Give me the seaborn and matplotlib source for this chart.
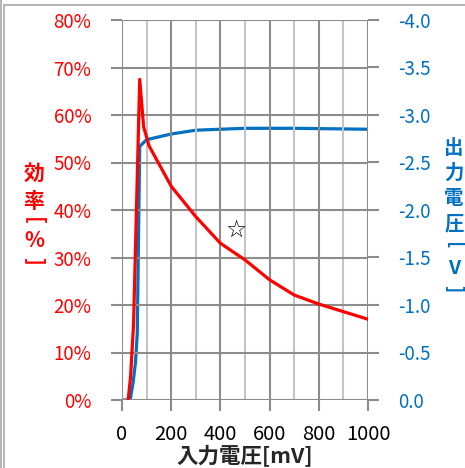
import matplotlib
matplotlib.use("Agg")
import matplotlib.pyplot as plt
from matplotlib.lines import Line2D
import seaborn as sns
import pandas as pd

# ---- data ----
eff_x = [25, 35, 47, 72, 88, 110, 200, 300, 400, 500, 600, 700, 800, 1000]
eff_y = [0, 5, 16, 67.5, 57.5, 53.5, 45, 38.6, 33, 29.5, 25.3, 22.1, 20.2, 17]
vout_x = [5, 33, 45, 55, 62, 72, 100, 200, 300, 500, 700, 1000]
vout_y = [0, 0, -0.18, -0.4, -0.7, -2.67, -2.74, -2.80, -2.84, -2.86, -2.86, -2.85]
x_ticks = [0, 200, 400, 600, 800, 1000]
left_ticks = [0, 10, 20, 30, 40, 50, 60, 70, 80]
right_ticks = [0.0, -0.5, -1.0, -1.5, -2.0, -2.5, -3.0, -3.5, -4.0]
star_pos = (465, 35.8)

sns.set_theme(style="white")
plt.rcParams['font.family'] = ['Noto Sans CJK JP', 'DejaVu Sans']

W, H = 465, 468
fig = plt.figure(figsize=(W / 100, H / 100), dpi=100)
ax = fig.add_axes([122 / W, 1 - 400 / H, (368 - 122) / W, (400 - 20) / H])
ax2 = ax.twinx()

RED = '#FF0000'
BLUE = '#0070C0'
DARK = '#8c8c8c'
LIGHT = '#c4c4c4'

# grid
for xv in range(0, 1001, 100):
    ax.axvline(xv, color=DARK if xv % 200 == 0 else LIGHT, lw=1.5, zorder=0)
for yv in left_ticks:
    ax.axhline(yv, color=DARK, lw=1.5, zorder=0)

df_e = pd.DataFrame({'x': eff_x, 'y': eff_y})
df_v = pd.DataFrame({'x': vout_x, 'y': vout_y})
sns.lineplot(data=df_e, x='x', y='y', ax=ax, color=RED, lw=2.3, sort=False, zorder=3)
sns.lineplot(data=df_v, x='x', y='y', ax=ax2, color=BLUE, lw=2.3, sort=False, zorder=3)
ax.set_zorder(ax2.get_zorder() + 1)
ax.patch.set_visible(False)

ax.set_xlim(0, 1000)
ax.set_ylim(0, 80)
ax2.set_ylim(0, -4)

for a in (ax, ax2):
    for s in a.spines.values():
        s.set_visible(False)

ax.set_xticks(x_ticks)
ax.set_xticklabels([str(v) for v in x_ticks], fontsize=14.5, color='black')
ax.set_yticks(left_ticks)
ax.set_yticklabels([f"{v}%" for v in left_ticks], fontsize=13.5, color=RED)
ax2.set_yticks(right_ticks)
ax2.set_yticklabels([f"{v:.1f}" for v in right_ticks], fontsize=13.5, color=BLUE)

ax.tick_params(axis='x', which='both', direction='out', length=8, width=1.5, color=DARK, pad=9, bottom=True)
ax.tick_params(axis='y', direction='out', length=8, width=1.5, color=DARK, pad=14, left=True)
ax2.tick_params(axis='y', direction='out', length=8, width=1.5, color=DARK, pad=14, right=True)

ax.set_xlabel('入力電圧[mV]', fontsize=15.5, fontweight='bold', labelpad=0)
ax.set_ylabel('')
ax2.set_ylabel('')

ax.text(star_pos[0], star_pos[1], '☆', fontsize=17, ha='center', va='center',
        family=['DejaVu Sans'], color='black', zorder=5)

def px(x, y):
    return x / W, 1 - y / H

# left axis title (vertical stacked, brackets rotated)
left_chars = [('効', 173, 0), ('率', 201, 0), ('[', 221, -90), ('%', 241, 0), (']', 262, -90)]
for ch, yy, rot in left_chars:
    fig.text(*px(34, yy), ch, color=RED, fontsize=15, fontweight='bold',
             ha='center', va='center', rotation=rot)

right_chars = [('出', 148, 0), ('力', 173, 0), ('電', 198, 0), ('圧', 224, 0),
               ('[', 246, -90), ('V', 268, 0), (']', 289, -90)]
for ch, yy, rot in right_chars:
    fig.text(*px(454, yy), ch, color=BLUE, fontsize=14, fontweight='bold',
             ha='center', va='center', rotation=rot)

# outer frame lines
fig.add_artist(Line2D([1 / W, 1 / W], [0, 1], transform=fig.transFigure, color='#a8a8a8', lw=1.2))
fig.add_artist(Line2D([4 / W, 4 / W], [0, 1 - 5 / H], transform=fig.transFigure, color='#a8a8a8', lw=1.2))
fig.add_artist(Line2D([4 / W, 1], [1 - 5 / H, 1 - 5 / H], transform=fig.transFigure, color='#a8a8a8', lw=1.2))

fig.savefig('out.png', dpi=100)
